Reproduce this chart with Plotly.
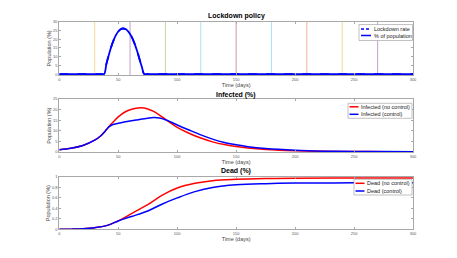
import plotly.graph_objects as go

# ---------------- data ----------------
lock_t = [0, 36, 38, 40, 42, 44, 46, 48, 50, 52, 54, 56, 58, 60, 62, 64, 66, 68, 70, 72, 74, 300]
lock_pop = [0, 0, 0, 6, 11, 15.5, 19.3, 22.3, 24.4, 25.7, 26.1, 25.8, 24.8, 23.0, 20.5, 17.2, 13.2, 8.7, 4.2, 0, 0, 0]
lock_rate = [0, 0, 0, 6, 11, 15.5, 19.3, 22.3, 24.4, 25.7, 26.1, 25.8, 24.8, 23.0, 20.5, 17.2, 13.2, 8.7, 4.2, 0, 0, 0]
check_days = [30, 60, 90, 120, 150, 180, 210, 240, 270]
check_colors = ["#EDB120", "#7E2F8E", "#77AC30", "#4DBEEE", "#A2142F",
                "#4DBEEE", "#D95319", "#EDB120", "#7E2F8E"]

inf_t = [0, 10, 20, 30, 35, 40, 42, 45, 50, 55, 60, 65, 69, 75, 80, 85, 90, 95, 100,
         110, 120, 130, 140, 150, 160, 175, 200, 225, 250, 275, 300]
inf_nc = [1.0, 1.7, 3.0, 5.5, 7.5, 10.5, 11.8, 13.7, 16.5, 18.6, 19.9, 20.6, 20.8, 20.3, 19.1, 17.4, 15.4,
          13.4, 11.6, 8.8, 6.5, 4.7, 3.4, 2.5, 1.8, 1.1, 0.5, 0.25, 0.12, 0.06, 0.03]
inf_c = [1.0, 1.7, 3.0, 5.5, 7.5, 10.5, 11.8, 12.8, 13.5, 14.1, 14.6, 15.0, 15.4, 15.9, 16.2, 16.0, 15.2,
         14.0, 12.7, 10.3, 8.0, 6.0, 4.4, 3.3, 2.4, 1.5, 0.7, 0.3, 0.15, 0.08, 0.04]

dead_t = [0, 10, 20, 30, 40, 50, 55, 62, 75, 87, 100, 115, 130, 150, 175, 200, 250, 300]
dead_nc = [0, 0.003, 0.01, 0.03, 0.07, 0.16, 0.22, 0.31, 0.47, 0.65, 0.79, 0.88, 0.93, 0.955, 0.97, 0.977, 0.98, 0.981]
dead_c = [0, 0.003, 0.01, 0.03, 0.07, 0.16, 0.2, 0.25, 0.35, 0.48, 0.6, 0.72, 0.8, 0.85, 0.873, 0.883, 0.888, 0.89]

titles = ["Lockdown policy", "Infected (%)", "Dead (%)"]
legend_labels = [["Lockdown rate", "% of population"],
                 ["Infected (no control)", "Infected (control)"],
                 ["Dead (no control)", "Dead (control)"]]
xticks = [0, 50, 100, 150, 200, 250, 300]

# page body has an 8px margin; figure is sized to fit inside it
OFF = 8
W, H = 457 - 2 * OFF, 258 - 2 * OFF
BLUE = "#0000FF"
RED = "#FF0000"
FONT = "Liberation Sans, Arial, sans-serif"

fig = go.Figure()
fig.add_trace(go.Scatter(x=lock_t, y=lock_rate, mode="lines", name=legend_labels[0][0], line_shape="spline",
                         line=dict(color=BLUE, width=1.8, dash="dash"), xaxis="x", yaxis="y"))
fig.add_trace(go.Scatter(x=lock_t, y=lock_pop, mode="lines", name=legend_labels[0][1], line_shape="spline",
                         line=dict(color=BLUE, width=1.8), xaxis="x", yaxis="y"))
fig.add_trace(go.Scatter(x=inf_t, y=inf_nc, mode="lines", name=legend_labels[1][0], line_shape="spline",
                         line=dict(color=RED, width=1.5), xaxis="x2", yaxis="y2"))
fig.add_trace(go.Scatter(x=inf_t, y=inf_c, mode="lines", name=legend_labels[1][1], line_shape="spline",
                         line=dict(color=BLUE, width=1.5), xaxis="x2", yaxis="y2"))
fig.add_trace(go.Scatter(x=dead_t, y=dead_nc, mode="lines", name=legend_labels[2][0], line_shape="spline",
                         line=dict(color=RED, width=1.5), xaxis="x3", yaxis="y3"))
fig.add_trace(go.Scatter(x=dead_t, y=dead_c, mode="lines", name=legend_labels[2][1], line_shape="spline",
                         line=dict(color=BLUE, width=1.5), xaxis="x3", yaxis="y3"))

for d, c in zip(check_days, check_colors):
    fig.add_shape(type="line", x0=d, x1=d, y0=0, y1=1, xref="x", yref="y domain",
                  line=dict(color=c, width=1), opacity=0.45, layer="below")

AX = dict(showline=True, mirror="ticks", linecolor="#A8A8A8", linewidth=1, ticks="inside", ticklen=2,
          tickcolor="#A8A8A8", tickfont=dict(size=4, color="#555555", family=FONT), showgrid=False,
          zeroline=False, automargin=False)


def px_y(p):
    return 1 - (p - OFF) / H


def px_x(p):
    return (p - OFF) / W


# plot boxes in window pixels (top, bottom)
boxes = [(21.7, 75.0), (99.0, 152.3), (177.0, 229.3)]
yranges = [(-0.5, 30), (-0.25, 25), (0, 1)]
ytickvals = [[0, 5, 10, 15, 20, 25, 30], [0, 5, 10, 15, 20, 25], [0, 0.2, 0.4, 0.6, 0.8, 1]]
layout = dict()
for i in range(3):
    s = "" if i == 0 else str(i + 1)
    top, bot = boxes[i]
    layout["xaxis" + s] = dict(AX, domain=[px_x(59.3), px_x(413)], range=[0, 300], tickvals=xticks,
                               anchor="y" + s,
                               title=dict(text="Time (days)", font=dict(size=5.5, color="#444444", family=FONT),
                                          standoff=1))
    layout["yaxis" + s] = dict(AX, domain=[px_y(bot), px_y(top)], range=list(yranges[i]), tickvals=ytickvals[i],
                               anchor="x" + s,
                               title=dict(text="Population (%)", font=dict(size=5.5, color="#444444", family=FONT),
                                          standoff=1))

annotations = []
shapes = []
title_y = [16, 94.5, 171]
for t, ty in zip(titles, title_y):
    annotations.append(dict(text="<b>%s</b>" % t, x=px_x(236), y=px_y(ty), xref="paper", yref="paper",
                            showarrow=False, font=dict(size=7, color="black", family=FONT),
                            xanchor="center", yanchor="middle"))

# compact legends (box x0, x1, y0, y1, line x0, x1, row ys) in window pixels
leg_geo = [
    (359, 412.5, 24.5, 40.5, 361, 371, [29.0, 35.5]),
    (348, 412, 103.3, 118.3, 349.5, 358.5, [106.8, 114.3]),
    (354, 412, 179.3, 195.0, 355.5, 364.5, [183.3, 191.0]),
]
leg_styles = [[dict(color=BLUE, width=1.5, dash="3px,2px"), dict(color=BLUE, width=1.5)],
              [dict(color=RED, width=1.5), dict(color=BLUE, width=1.5)],
              [dict(color=RED, width=1.5), dict(color=BLUE, width=1.5)]]
for (bx0, bx1, by0, by1, lx0, lx1, rows), labels, styles in zip(leg_geo, legend_labels, leg_styles):
    shapes.append(dict(type="rect", xref="paper", yref="paper", x0=px_x(bx0), x1=px_x(bx1),
                       y0=px_y(by1), y1=px_y(by0), fillcolor="white",
                       line=dict(color="#A8A8A8", width=0.7), layer="above"))
    for ry, lab, st in zip(rows, labels, styles):
        shapes.append(dict(type="line", xref="paper", yref="paper", x0=px_x(lx0), x1=px_x(lx1),
                           y0=px_y(ry), y1=px_y(ry), line=st, layer="above"))
        annotations.append(dict(text=lab, x=px_x(lx1 + 0.5), y=px_y(ry), xref="paper", yref="paper",
                                showarrow=False, xanchor="left", yanchor="middle",
                                font=dict(size=5.5, color="#222222", family=FONT)))

fig.update_layout(
    width=W, height=H,
    margin=dict(l=0, r=0, t=0, b=0, autoexpand=False),
    paper_bgcolor="white", plot_bgcolor="white",
    showlegend=False,
    annotations=annotations,
    **layout,
)
for sh in shapes:
    fig.add_shape(**sh)

fig.write_html("out.html")
